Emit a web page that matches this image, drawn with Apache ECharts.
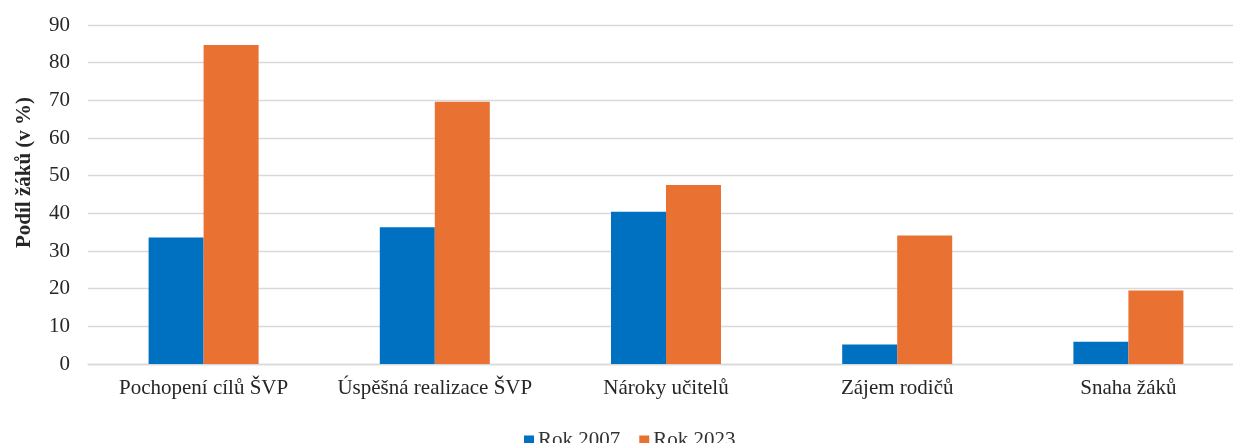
<!DOCTYPE html>
<html>
<head>
<meta charset="utf-8">
<script src="https://cdn.jsdelivr.net/npm/echarts@6/dist/echarts.min.js"></script>
<style>
  html, body { margin: 0; padding: 0; background: #fff; overflow: hidden; }
  #chart { width: 1244px; height: 443px; }
</style>
</head>
<body>
<div id="chart"></div>
<script>
// Podíl žáků podle oblasti, srovnání let 2007 a 2023
const categories = ['Pochopení cílů ŠVP', 'Úspěšná realizace ŠVP', 'Nároky učitelů', 'Zájem rodičů', 'Snaha žáků'];
const rok2007 = [33.6, 36.3, 40.4, 5.2, 5.9];
const rok2023 = [84.7, 69.6, 47.5, 34.1, 19.5];
const yTicks = { min: 0, max: 90, interval: 10 };

const serif = '"Liberation Serif", "Times New Roman", serif';

const chart = echarts.init(document.getElementById('chart'), null, { renderer: 'canvas' });
chart.setOption({
  animation: false,
  textStyle: { fontFamily: serif },
  grid: { left: 88, right: 0, top: 25, bottom: 79, containLabel: false },
  legend: {
    top: 425,
    left: 519,
    itemWidth: 10,
    itemHeight: 10,
    itemGap: 19,
    icon: 'rect',
    textStyle: { fontFamily: serif, fontSize: 21, color: '#333333', padding: [0, 0, 0, -1] },
    data: ['Rok 2007', 'Rok 2023']
  },
  xAxis: {
    type: 'category',
    data: categories,
    axisLine: { lineStyle: { color: '#d9d9d9', width: 1.3 } },
    axisTick: { show: false },
    axisLabel: { fontFamily: serif, fontSize: 21, color: '#262626', margin: 14, interval: 0 }
  },
  yAxis: {
    type: 'value',
    min: yTicks.min,
    max: yTicks.max,
    interval: yTicks.interval,
    name: 'Podíl žáků (v %)',
    nameLocation: 'middle',
    nameGap: 53,
    nameTextStyle: {
      fontFamily: serif, fontSize: 21, fontWeight: 'bold', color: '#262626',
      padding: [0, 0, 0, 44]
    },
    axisLine: { show: false },
    axisTick: { show: false },
    axisLabel: { fontFamily: serif, fontSize: 21, color: '#262626', margin: 18 },
    splitLine: { lineStyle: { color: '#d9d9d9', width: 1.3 } }
  },
  series: [
    {
      name: 'Rok 2007',
      type: 'bar',
      data: rok2007,
      barWidth: 55,
      barGap: '0%',
      itemStyle: { color: '#0070C0' }
    },
    {
      name: 'Rok 2023',
      type: 'bar',
      data: rok2023,
      barWidth: 55,
      barGap: '0%',
      itemStyle: { color: '#E97132' }
    }
  ]
});
</script>
</body>
</html>
